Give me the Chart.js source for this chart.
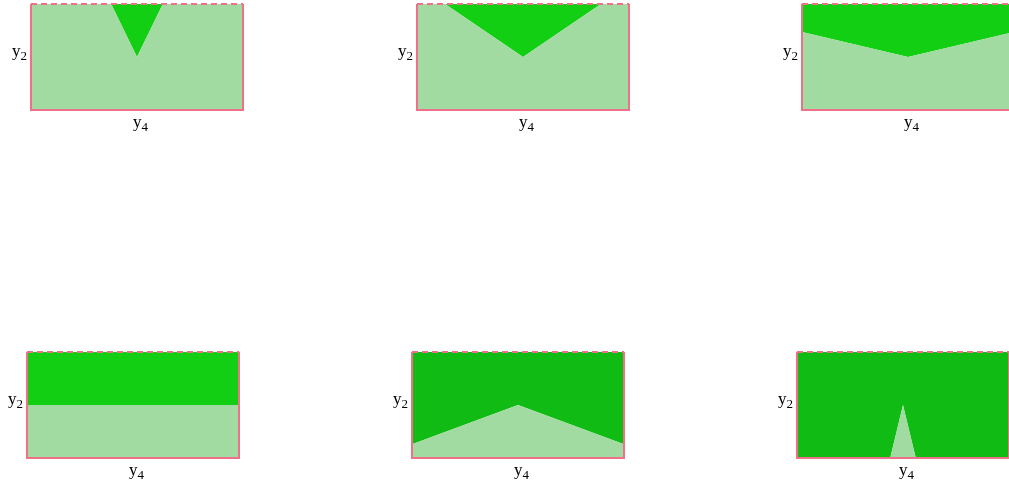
<!DOCTYPE html>
<html>
<head>
<meta charset="utf-8">
<script src="https://cdn.jsdelivr.net/npm/chart.js@4.4.0/dist/chart.umd.min.js"></script>
<style>
  html, body { margin: 0; padding: 0; background: #fff; overflow: hidden; width: 1009px; height: 485px; }
  canvas { position: absolute; }
</style>
</head>
<body>
<canvas id="c1" width="259" height="142" style="left:4px;top:0px"></canvas>
<canvas id="c2" width="259" height="142" style="left:390px;top:0px"></canvas>
<canvas id="c3" width="259" height="142" style="left:775px;top:0px"></canvas>
<canvas id="c4" width="259" height="142" style="left:0px;top:348px"></canvas>
<canvas id="c5" width="259" height="142" style="left:385px;top:348px"></canvas>
<canvas id="c6" width="259" height="142" style="left:770px;top:348px"></canvas>
<script>
'use strict';

// boundary between the two regions, read at x = -1, 0, 1
var xs = [-1, 0, 1];
var panel1 = [4.1, 0, 4.1];
var panel2 = [1.36, 0, 1.36];
var panel3 = [0.47, 0, 0.47];
var panel4 = [0, 0, 0];
var panel5 = [-0.74, 0, -0.74];
var panel6 = [-8.3, 0, -8.3];

var yLabel = ['y', '2'];
var xLabel = ['y', '4'];

var light = '#a1dba1';
var darkTop = '#12cf14';
var darkBottom = '#10bb14';
var pink = '#ef7189';

function drawSub(ctx, main, sub, x, y) {
  ctx.font = '17px "Liberation Serif"';
  ctx.textAlign = 'left';
  ctx.fillText(main, x, y);
  var w = ctx.measureText(main).width;
  ctx.font = '13px "Liberation Serif"';
  ctx.fillText(sub, x + w, y + 4);
}

var frame = {
  id: 'frame',
  afterDraw: function(chart) {
    var ctx = chart.ctx;
    var a = chart.chartArea;
    ctx.save();
    ctx.strokeStyle = pink;
    ctx.lineWidth = 2;
    ctx.beginPath();
    ctx.moveTo(a.left, a.top);
    ctx.lineTo(a.left, a.bottom);
    ctx.lineTo(a.right, a.bottom);
    ctx.lineTo(a.right, a.top);
    ctx.stroke();
    ctx.setLineDash([6, 4]);
    ctx.beginPath();
    ctx.moveTo(a.left, a.top);
    ctx.lineTo(a.right, a.top);
    ctx.stroke();
    ctx.setLineDash([]);
    ctx.fillStyle = '#000';
    drawSub(ctx, yLabel[0], yLabel[1], a.left - 19, a.top + 52);
    drawSub(ctx, xLabel[0], xLabel[1], (a.left + a.right) / 2 - 4, a.bottom + 17);
    ctx.restore();
  }
};

function makePanel(id, values, dark) {
  var pts = xs.map(function(x, i) { return { x: x, y: values[i] }; });
  return new Chart(document.getElementById(id), {
    type: 'line',
    data: {
      datasets: [
        { data: pts, fill: 'start', backgroundColor: light, borderWidth: 0, pointRadius: 0, tension: 0 },
        { data: pts, fill: 'end', backgroundColor: dark, borderWidth: 0, pointRadius: 0, tension: 0 }
      ]
    },
    options: {
      responsive: false,
      animation: false,
      devicePixelRatio: 1,
      layout: { padding: { left: 27, top: 4, right: 20, bottom: 32 } },
      plugins: { legend: { display: false }, tooltip: { enabled: false } },
      scales: {
        x: { type: 'linear', min: -1, max: 1, display: false },
        y: { type: 'linear', min: -1, max: 1, display: false }
      }
    },
    plugins: [frame]
  });
}

makePanel('c1', panel1, darkTop);
makePanel('c2', panel2, darkTop);
makePanel('c3', panel3, darkTop);
makePanel('c4', panel4, darkTop);
makePanel('c5', panel5, darkBottom);
makePanel('c6', panel6, darkBottom);
</script>
</body>
</html>
